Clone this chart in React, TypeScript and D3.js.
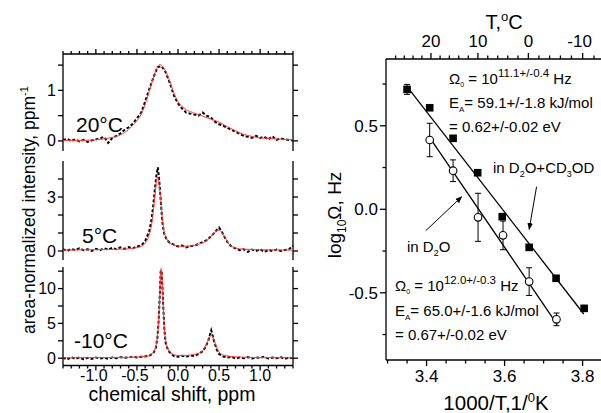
import React from 'react';
import * as d3 from 'd3';

const W = 601;
const H = 413;
const FONT = 'Arial, "Liberation Sans", sans-serif';

// ---- NMR spectra, [ppm, area-normalized intensity] ----
const data20 = [
  [-1.4, 0.02], [-1.35, 0.04], [-1.3, 0.0], [-1.25, 0.03], [-1.2, -0.01], [-1.15, 0.02], [-1.1, -0.02],
  [-1.05, 0.01], [-1.0, 0.03], [-0.95, 0.05], [-0.9, 0.08], [-0.85, -0.04], [-0.8, 0.06], [-0.75, 0.1],
  [-0.7, 0.15], [-0.65, 0.22], [-0.6, 0.27], [-0.55, 0.34], [-0.5, 0.45], [-0.45, 0.55], [-0.4, 0.78],
  [-0.35, 1.02], [-0.3, 1.25], [-0.25, 1.46], [-0.2, 1.48], [-0.15, 1.36], [-0.1, 1.15], [-0.05, 0.9],
  [0.0, 0.74], [0.05, 0.64], [0.1, 0.56], [0.15, 0.54], [0.2, 0.52], [0.25, 0.5], [0.3, 0.56],
  [0.35, 0.5], [0.4, 0.46], [0.45, 0.38], [0.5, 0.33], [0.55, 0.3], [0.6, 0.26], [0.65, 0.22],
  [0.7, 0.18], [0.75, 0.14], [0.8, 0.1], [0.85, 0.08], [0.9, 0.06], [0.95, 0.1], [1.0, 0.06],
  [1.05, 0.08], [1.1, 0.03], [1.15, 0.09], [1.2, 0.02], [1.25, 0.05], [1.3, 0.03], [1.35, 0.02], [1.4, 0.01],
];
const fit20 = [
  [-1.4, 0.01], [-1.2, 0.01], [-1.0, 0.02], [-0.9, 0.04], [-0.8, 0.07], [-0.7, 0.12], [-0.6, 0.23],
  [-0.5, 0.4], [-0.45, 0.52], [-0.4, 0.72], [-0.35, 0.98], [-0.3, 1.25], [-0.25, 1.46], [-0.22, 1.51],
  [-0.18, 1.46], [-0.15, 1.38], [-0.1, 1.18], [-0.05, 0.95], [0.0, 0.78], [0.05, 0.68], [0.1, 0.62],
  [0.2, 0.55], [0.3, 0.49], [0.4, 0.43], [0.5, 0.37], [0.6, 0.28], [0.7, 0.2], [0.8, 0.13],
  [0.9, 0.09], [1.0, 0.06], [1.2, 0.04], [1.4, 0.02],
];
const data5 = [
  [-1.4, 0.1], [-1.35, 0.0], [-1.3, 0.12], [-1.25, 0.05], [-1.2, 0.15], [-1.15, 0.05], [-1.1, 0.1],
  [-1.05, 0.0], [-1.0, 0.12], [-0.95, 0.05], [-0.9, 0.15], [-0.85, 0.08], [-0.8, 0.18], [-0.75, 0.1],
  [-0.7, 0.2], [-0.65, 0.12], [-0.6, 0.22], [-0.55, 0.15], [-0.5, 0.25], [-0.45, 0.3], [-0.4, 0.55],
  [-0.35, 1.1], [-0.32, 1.8], [-0.3, 2.6], [-0.28, 3.5], [-0.26, 4.3], [-0.245, 4.65], [-0.23, 4.0],
  [-0.21, 2.8], [-0.19, 1.6], [-0.17, 1.0], [-0.14, 0.65], [-0.1, 0.45], [-0.05, 0.35], [0.0, 0.25],
  [0.05, 0.3], [0.1, 0.2], [0.15, 0.28], [0.2, 0.3], [0.25, 0.38], [0.3, 0.5], [0.35, 0.6],
  [0.4, 0.8], [0.45, 1.05], [0.5, 1.3], [0.53, 1.1], [0.57, 0.75], [0.6, 0.5], [0.65, 0.25],
  [0.7, 0.15], [0.75, 0.05], [0.8, 0.1], [0.85, -0.05], [0.9, 0.08], [0.95, 0.0], [1.0, 0.1],
  [1.05, -0.05], [1.1, 0.05], [1.15, 0.0], [1.2, 0.08], [1.25, 0.0], [1.3, 0.05], [1.35, 0.1], [1.4, 0.3],
];
const fit5 = [
  [-1.4, 0.05], [-1.0, 0.07], [-0.7, 0.1], [-0.55, 0.15], [-0.45, 0.25], [-0.4, 0.43], [-0.35, 0.9],
  [-0.32, 1.5], [-0.3, 2.2], [-0.28, 3.1], [-0.26, 3.9], [-0.245, 4.1], [-0.23, 3.7], [-0.21, 2.8],
  [-0.19, 1.75], [-0.17, 1.1], [-0.14, 0.7], [-0.1, 0.45], [-0.05, 0.33], [0.05, 0.26], [0.15, 0.28],
  [0.25, 0.38], [0.32, 0.5], [0.38, 0.7], [0.43, 0.95], [0.47, 1.12], [0.5, 1.17], [0.53, 1.05],
  [0.57, 0.78], [0.61, 0.45], [0.66, 0.25], [0.75, 0.12], [1.0, 0.07], [1.4, 0.05],
];
const dataM10 = [
  [-1.4, 0.1], [-1.35, -0.2], [-1.3, 0.15], [-1.25, -0.1], [-1.2, 0.1], [-1.15, -0.15], [-1.1, 0.05],
  [-1.05, -0.1], [-1.0, 0.1], [-0.95, -0.05], [-0.9, 0.05], [-0.85, -0.1], [-0.8, 0.1], [-0.75, 0.0],
  [-0.7, 0.15], [-0.65, 0.05], [-0.6, 0.1], [-0.55, 0.2], [-0.5, 0.1], [-0.45, 0.2], [-0.4, 0.25],
  [-0.35, 0.35], [-0.3, 0.7], [-0.27, 1.5], [-0.25, 3.0], [-0.235, 5.5], [-0.22, 9.5], [-0.21, 12.5],
  [-0.2, 12.6], [-0.19, 10.5], [-0.18, 7.5], [-0.165, 4.0], [-0.15, 2.2], [-0.12, 1.1], [-0.08, 0.6],
  [-0.05, 0.3], [0.0, 0.2], [0.05, 0.35], [0.1, 0.2], [0.15, 0.4], [0.2, 0.3], [0.25, 0.6],
  [0.3, 1.0], [0.34, 1.7], [0.37, 2.6], [0.395, 3.6], [0.405, 4.0], [0.415, 3.6], [0.44, 2.4],
  [0.47, 1.3], [0.5, 0.6], [0.55, 0.25], [0.6, 0.1], [0.65, 0.2], [0.7, -0.05], [0.75, 0.1],
  [0.8, 0.0], [0.85, 0.15], [0.9, -0.05], [0.95, 0.1], [1.0, 0.05], [1.05, 0.2], [1.1, -0.05],
  [1.15, 0.1], [1.2, 0.0], [1.25, 0.15], [1.3, -0.1], [1.35, 0.1], [1.4, 0.0],
];
const fitM10 = [
  [-1.4, 0.05], [-1.0, 0.08], [-0.6, 0.12], [-0.4, 0.25], [-0.32, 0.6], [-0.28, 1.3], [-0.26, 2.3],
  [-0.24, 4.5], [-0.225, 8.0], [-0.215, 11.2], [-0.205, 12.9], [-0.195, 11.8], [-0.185, 9.0],
  [-0.17, 5.0], [-0.15, 2.6], [-0.12, 1.3], [-0.08, 0.7], [0.0, 0.4], [0.1, 0.4], [0.2, 0.55],
  [0.28, 0.9], [0.32, 1.4], [0.35, 2.1], [0.38, 2.9], [0.405, 3.35], [0.43, 2.9], [0.46, 1.9],
  [0.5, 0.9], [0.55, 0.45], [0.7, 0.2], [1.0, 0.08], [1.4, 0.05],
];

const shiftTicks = [-1.0, -0.5, 0.0, 0.5, 1.0];
const shiftTickLabels = ['-1.0', '-0.5', '0.0', '0.5', '1.0'];

// ---- Arrhenius plot ----
const invTmix = [3.35, 3.408, 3.468, 3.531, 3.594, 3.663, 3.732, 3.804];
const logWmix = [0.718, 0.608, 0.425, 0.219, -0.044, -0.228, -0.413, -0.593];
const errMix = [0.03, 0, 0, 0, 0, 0, 0, 0];
const invTd2o = [3.408, 3.468, 3.532, 3.596, 3.663, 3.733];
const logWd2o = [0.415, 0.231, -0.048, -0.156, -0.433, -0.659];
const errD2o = [0.1, 0.065, 0.144, 0.086, 0.083, 0.038];
const fitMix = [[3.35, 0.735], [3.803, -0.627]];
const fitD2o = [[3.405, 0.44], [3.735, -0.69]];

const invTTicks = [3.4, 3.6, 3.8];
const invTTickLabels = ['3.4', '3.6', '3.8'];
const logTicks = [0.5, 0.0, -0.5];
const logTickLabels = ['0.5', '0.0', '-0.5'];
const tempTicks = [20, 10, 0, -10];
const tempTickLabels = ['20', '10', '0', '-10'];

const xShift = d3.scaleLinear().domain([-1.4, 1.4]).range([63, 293]);

const panels = [
  { name: '20°C', data: data20, fit: fit20, y: d3.scaleLinear().domain([-0.2, 1.72]).range([151, 54]),
    ticks: [0, 0.5, 1, 1.5], labels: [0, 1], tx: 76, ty: 132 },
  { name: '5°C', data: data5, fit: fit5, y: d3.scaleLinear().domain([-0.5, 5]).range([260, 161]),
    ticks: [0, 1, 2, 3, 4], labels: [0, 3], tx: 82, ty: 243 },
  { name: '-10°C', data: dataM10, fit: fitM10, y: d3.scaleLinear().domain([-1.05, 13.1]).range([365.5, 267]),
    ticks: [0, 2.5, 5, 7.5, 10, 12.5], labels: [0, 5, 10], tx: 74, ty: 348 },
];

const xT = d3.scaleLinear().domain([3.296, 3.86]).range([386, 606]);
const yT = d3.scaleLinear().domain([-0.9, 0.9]).range([359.6, 59]);

export default function App() {
  const minorShift = d3.range(-14, 15).map(d => d / 10);
  const ax = { stroke: '#000', strokeWidth: 1.3, fill: 'none' };

  return (
    <svg width={W} height={H} style={{ position: 'absolute', left: 0, top: 0, background: '#fff' }}
      fontFamily={FONT}>
      <defs>
        <marker id="ah" viewBox="0 0 10 10" refX="9" refY="5" markerWidth="7" markerHeight="7" orient="auto">
          <path d="M0,1 L10,5 L0,9 z" fill="#000" />
        </marker>
      </defs>
      <rect width={W} height={H} fill="#fff" />

      {/* ---------- left: spectra ---------- */}
      {panels.map((p, i) => {
        const [y0, y1] = p.y.range();
        const line = d3.line<number[]>().x(d => xShift(d[0])).y(d => p.y(d[1]));
        const fitLine = d3.line<number[]>().x(d => xShift(d[0])).y(d => p.y(d[1])).curve(d3.curveMonotoneX);
        return (
          <g key={i}>
            <line x1={63} x2={63} y1={y0} y2={y1} {...ax} />
            <line x1={293} x2={293} y1={y0} y2={y1} {...ax} />
            {p.ticks.map(t => (
              <g key={t}>
                <line x1={58} x2={63} y1={p.y(t)} y2={p.y(t)} {...ax} />
                <line x1={293} x2={298} y1={p.y(t)} y2={p.y(t)} {...ax} />
              </g>
            ))}
            {p.labels.map(t => (
              <text key={t} x={56} y={p.y(t) + 5.5} fontSize={16} textAnchor="end">{t}</text>
            ))}
            <path d={line(p.data) || ''} fill="none" stroke="#000" strokeWidth={2} strokeDasharray="3,2" />
            <path d={fitLine(p.fit) || ''} fill="none" stroke="#ff3a3a" strokeWidth={1} />
            <text x={p.tx} y={p.ty} fontSize={21}>{p.name}</text>
          </g>
        );
      })}
      {/* top axis of top panel */}
      <line x1={63} x2={293} y1={54} y2={54} {...ax} />
      {minorShift.map(t => {
        const major = Math.abs(t * 2 - Math.round(t * 2)) < 1e-6;
        return <line key={'t' + t} x1={xShift(t)} x2={xShift(t)} y1={54} y2={major ? 49 : 51} {...ax} />;
      })}
      {/* bottom axis */}
      <line x1={63} x2={293} y1={365.5} y2={365.5} {...ax} />
      {minorShift.map(t => {
        const major = Math.abs(t * 2 - Math.round(t * 2)) < 1e-6;
        return <line key={'b' + t} x1={xShift(t)} x2={xShift(t)} y1={365.5} y2={major ? 370.5 : 368.5} {...ax} />;
      })}
      {shiftTicks.map((t, i) => (
        <text key={t} x={xShift(t) - (t < 0 ? 2 : 0)} y={381} fontSize={16} textAnchor="middle">{shiftTickLabels[i]}</text>
      ))}
      <text x={172} y={401} fontSize={19.5} textAnchor="middle">chemical shift, ppm</text>
      <text transform="translate(35,210) rotate(-90)" fontSize={17.5} textAnchor="middle">
        area-normalized intensity, ppm<tspan fontSize={11} dy={-7}>-1</tspan>
      </text>

      {/* ---------- right: Arrhenius ---------- */}
      <line x1={386} x2={386} y1={59} y2={360} {...ax} />
      <line x1={386} x2={W} y1={59} y2={59} {...ax} />
      <line x1={386} x2={W} y1={360} y2={360} {...ax} />
      {d3.range(3.3, 3.86, 0.05).map(v => {
        const major = invTTicks.some(t => Math.abs(t - v) < 1e-6);
        return <line key={'x' + v} x1={xT(v)} x2={xT(v)} y1={360} y2={major ? 366 : 363.5} {...ax} />;
      })}
      {invTTicks.map((t, i) => (
        <text key={t} x={xT(t)} y={382} fontSize={17} textAnchor="middle">{invTTickLabels[i]}</text>
      ))}
      {d3.range(-14, 30, 2).map(c => {
        const v = 1000 / (c + 273.15);
        if (v < 3.298) return null;
        const major = tempTicks.includes(c);
        return <line key={'c' + c} x1={xT(v)} x2={xT(v)} y1={59} y2={major ? 53 : 55.5} {...ax} />;
      })}
      {tempTicks.map((c, i) => (
        <text key={c} x={xT(1000 / (c + 273.15)) - (c < 0 ? 3 : 0)} y={47} fontSize={17} textAnchor="middle">
          {tempTickLabels[i]}
        </text>
      ))}
      {[0.75, 0.5, 0.25, 0, -0.25, -0.5, -0.75].map(v => (
        <line key={'y' + v} x1={logTicks.includes(v) ? 380 : 382.5} x2={386} y1={yT(v)} y2={yT(v)} {...ax} />
      ))}
      {logTicks.map((t, i) => (
        <text key={t} x={378} y={yT(t) + 6} fontSize={17} textAnchor="end">{logTickLabels[i]}</text>
      ))}
      <text x={504} y={29} fontSize={20} textAnchor="middle">T,<tspan fontSize={13} dy={-8}>o</tspan><tspan dy={8}>C</tspan></text>
      <text x={496} y={410} fontSize={20.5} textAnchor="middle">
        1000/T,1/<tspan fontSize={13} dy={-8}>0</tspan><tspan dy={8}>K</tspan>
      </text>
      <text transform="translate(341,215) rotate(-90)" fontSize={19} textAnchor="middle">
        log<tspan fontSize={12} dy={5}>10</tspan><tspan dy={-5}>Ω, Hz</tspan>
      </text>

      {/* fits */}
      {[fitMix, fitD2o].map((f, i) => (
        <line key={'f' + i} x1={xT(f[0][0])} y1={yT(f[0][1])} x2={xT(f[1][0])} y2={yT(f[1][1])}
          stroke="#000" strokeWidth={1.3} />
      ))}
      {/* error bars */}
      {invTd2o.map((x, i) => (
        <g key={'ed' + i} stroke="#000" strokeWidth={1}>
          <line x1={xT(x)} x2={xT(x)} y1={yT(logWd2o[i] + errD2o[i])} y2={yT(logWd2o[i] - errD2o[i])} />
          <line x1={xT(x) - 3} x2={xT(x) + 3} y1={yT(logWd2o[i] + errD2o[i])} y2={yT(logWd2o[i] + errD2o[i])} />
          <line x1={xT(x) - 3} x2={xT(x) + 3} y1={yT(logWd2o[i] - errD2o[i])} y2={yT(logWd2o[i] - errD2o[i])} />
        </g>
      ))}
      {invTmix.map((x, i) => errMix[i] > 0 ? (
        <g key={'em' + i} stroke="#000" strokeWidth={1}>
          <line x1={xT(x)} x2={xT(x)} y1={yT(logWmix[i] + errMix[i])} y2={yT(logWmix[i] - errMix[i])} />
          <line x1={xT(x) - 3} x2={xT(x) + 3} y1={yT(logWmix[i] + errMix[i])} y2={yT(logWmix[i] + errMix[i])} />
          <line x1={xT(x) - 3} x2={xT(x) + 3} y1={yT(logWmix[i] - errMix[i])} y2={yT(logWmix[i] - errMix[i])} />
        </g>
      ) : null)}
      {invTmix.map((x, i) => (
        <rect key={'s' + i} x={xT(x) - 3.8} y={yT(logWmix[i]) - 3.8} width={7.6} height={7.6} fill="#000" />
      ))}
      {invTd2o.map((x, i) => (
        <circle key={'o' + i} cx={xT(x)} cy={yT(logWd2o[i])} r={3.8} fill="#fff" stroke="#000" strokeWidth={1.1} />
      ))}

      {/* arrows */}
      <line x1={xT(3.682)} y1={yT(0.135)} x2={xT(3.663)} y2={yT(-0.12)} stroke="#000" strokeWidth={1} markerEnd="url(#ah)" />
      <line x1={xT(3.398)} y1={yT(-0.128)} x2={xT(3.49)} y2={yT(0.075)} stroke="#000" strokeWidth={1} markerEnd="url(#ah)" />

      {/* annotations */}
      <g fontSize={15}>
        <text x={449} y={84}>Ω<tspan fontSize={7} dy={3}>0</tspan><tspan dy={-3}> = 10</tspan><tspan fontSize={11.5} dy={-7}>11.1+/-0.4</tspan><tspan dy={7}> Hz</tspan></text>
        <text x={449} y={108}>E<tspan fontSize={8} dy={4}>A</tspan><tspan dy={-4}>= 59.1+/-1.8 kJ/mol</tspan></text>
        <text x={449} y={131.5}>= 0.62+/-0.02 eV</text>
        <text x={493} y={173}>in D<tspan fontSize={9} dy={4}>2</tspan><tspan dy={-4}>O+CD</tspan><tspan fontSize={9} dy={4}>3</tspan><tspan dy={-4}>OD</tspan></text>
        <text x={407} y={251.5}>in D<tspan fontSize={9} dy={4}>2</tspan><tspan dy={-4}>O</tspan></text>
        <text x={395} y={290.5}>Ω<tspan fontSize={7} dy={3}>0</tspan><tspan dy={-3}> = 10</tspan><tspan fontSize={11.5} dy={-7}>12.0+/-0.3</tspan><tspan dy={7}> Hz</tspan></text>
        <text x={395} y={316}>E<tspan fontSize={8} dy={4}>A</tspan><tspan dy={-4}>= 65.0+/-1.6 kJ/mol</tspan></text>
        <text x={395} y={340}>= 0.67+/-0.02 eV</text>
      </g>
    </svg>
  );
}
